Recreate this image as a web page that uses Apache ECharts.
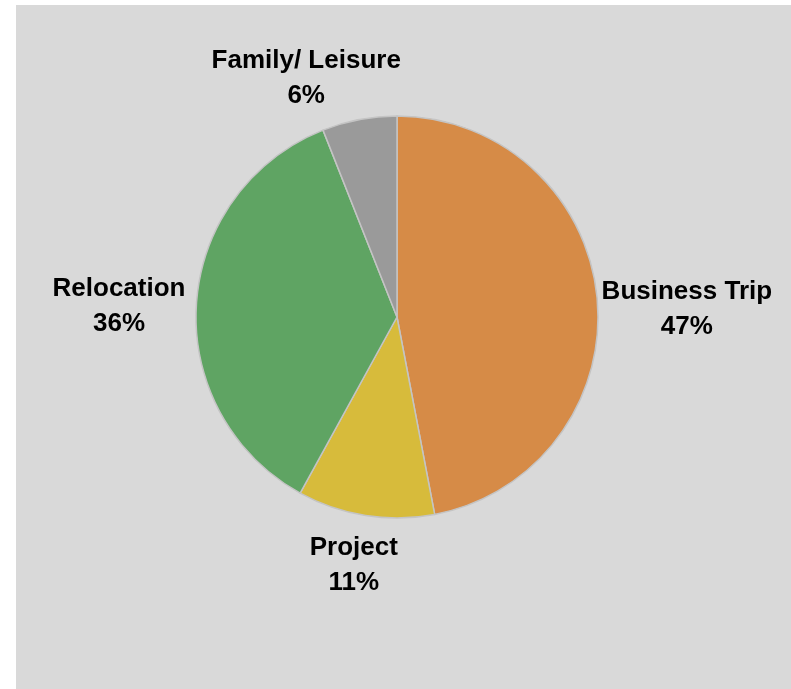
<!DOCTYPE html>
<html>
<head>
<meta charset="utf-8">
<script src="https://cdn.jsdelivr.net/npm/echarts@6/dist/echarts.min.js"></script>
<style>
  html, body { margin: 0; padding: 0; background: #ffffff; }
  #chart { position: absolute; left: 16px; top: 5px; width: 775px; height: 684px; }
</style>
</head>
<body>
<div id="chart"></div>
<script>
// Trip purpose shares (percent)
const categories = ['Business Trip', 'Project', 'Relocation', 'Family/ Leisure'];
const shares = [47, 11, 36, 6];
const colors = ['#D68B47', '#D7BB3B', '#5FA463', '#9A9A9A'];

// Small hand nudges for the outside labels, in pixels
const labelNudge = [[0, 20], [-5, 7], [-7, 6], [-43, 12]];

const pieCenter = [381, 312];
const pieRadius = 201;
const labelGap = 2;

const total = shares.reduce((a, b) => a + b, 0);
const midFraction = [];
let acc = 0;
shares.forEach(v => { midFraction.push((acc + v / 2) / total); acc += v; });

const chart = echarts.init(document.getElementById('chart'));
chart.setOption({
  backgroundColor: '#D9D9D9',
  animation: false,
  series: [{
    type: 'pie',
    center: pieCenter,
    radius: pieRadius,
    startAngle: 90,
    clockwise: true,
    data: categories.map((name, i) => ({
      name: name,
      value: shares[i],
      itemStyle: { color: colors[i] }
    })),
    itemStyle: { borderColor: '#C4C4C4', borderWidth: 1.5 },
    label: {
      show: true,
      position: 'outside',
      formatter: p => p.name + '\n' + p.value + '%',
      fontFamily: 'Liberation Sans, Arial, sans-serif',
      fontWeight: 'bold',
      fontSize: 26,
      lineHeight: 35,
      color: '#000000',
      align: 'center',
      overflow: 'none'
    },
    labelLine: { show: false },
    emphasis: { disabled: true },
    labelLayout: function (p) {
      // push each label box just past the rim along its slice's mid direction
      const a = midFraction[p.dataIndex] * Math.PI * 2;
      const ux = Math.sin(a), uy = -Math.cos(a);
      const ex = pieCenter[0] + pieRadius * ux;
      const ey = pieCenter[1] + pieRadius * uy;
      const w = p.labelRect.width, h = p.labelRect.height;
      const d = labelGap + (w / 2) * Math.abs(ux) + (h / 2) * Math.abs(uy);
      const n = labelNudge[p.dataIndex];
      return {
        x: ex + ux * d + n[0],
        y: ey + uy * d + n[1],
        align: 'center',
        verticalAlign: 'middle'
      };
    }
  }]
});
</script>
</body>
</html>
